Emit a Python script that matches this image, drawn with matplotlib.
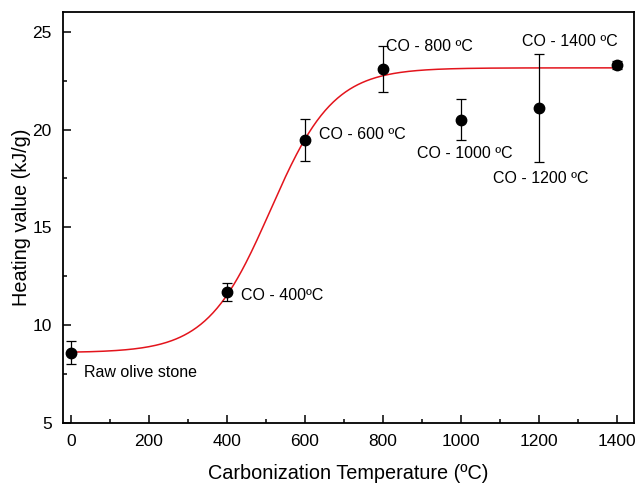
import numpy as np
import matplotlib.pyplot as plt
from matplotlib.ticker import MultipleLocator

plt.rcParams['font.family'] = ['Liberation Sans', 'DejaVu Sans']

# Heating value of carbonized olive stone vs carbonization temperature
temperature = [0, 400, 600, 800, 1000, 1200, 1400]
heating_value = [8.6, 11.7, 19.45, 23.1, 20.5, 21.1, 23.3]
heating_err = [0.6, 0.45, 1.07, 1.17, 1.05, 2.74, 0.2]

point_labels = ['Raw olive stone', 'CO - 400ºC', 'CO - 600 ºC', 'CO - 800 ºC',
                'CO - 1000 ºC', 'CO - 1200 ºC', 'CO - 1400 ºC']
label_x = [35, 436, 638, 809, 889, 1083, 1158]
label_y = [7.57, 11.5, 19.74, 24.25, 18.76, 17.48, 24.5]

# Boltzmann sigmoid fit parameters (A1, A2, x0, dx)
fit_A1, fit_A2, fit_x0, fit_dx = 8.6, 23.15, 512, 81


def boltzmann(x):
    return fit_A2 + (fit_A1 - fit_A2) / (1 + np.exp((x - fit_x0) / fit_dx))


fig = plt.figure(figsize=(6.36, 4.83), dpi=100)
ax = fig.add_axes([0.099, 0.124, 0.898, 0.851])

x_fit = np.linspace(0, 1400, 400)
ax.plot(x_fit, boltzmann(x_fit), color='#e3141c', linewidth=1.1, zorder=2)

ax.errorbar(temperature, heating_value, yerr=heating_err, fmt='o', color='black',
            markersize=7.5, ecolor='black', elinewidth=0.9, capsize=3.5,
            capthick=0.9, zorder=3)

for txt, lx, ly in zip(point_labels, label_x, label_y):
    ax.text(lx, ly, txt, fontsize=11.5, ha='left', va='center')

ax.set_xlim(-20, 1445)
ax.set_ylim(5, 26)
ax.xaxis.set_major_locator(MultipleLocator(200))
ax.xaxis.set_minor_locator(MultipleLocator(100))
ax.yaxis.set_major_locator(MultipleLocator(5))
ax.yaxis.set_minor_locator(MultipleLocator(2.5))
ax.tick_params(which='major', direction='in', length=6, width=1.1,
               labelsize=12.5, top=False, right=False)
ax.tick_params(axis='x', which='major', pad=8)
ax.tick_params(axis='y', which='major', pad=8)
ax.tick_params(which='minor', direction='in', length=3, width=1.1,
               top=False, right=False)
for sp in ax.spines.values():
    sp.set_linewidth(1.3)

ax.set_xlabel('Carbonization Temperature (ºC)', fontsize=14.3, labelpad=11)
ax.set_ylabel('Heating value (kJ/g)', fontsize=14.3, labelpad=1)

fig.savefig('out.png', dpi=100)
